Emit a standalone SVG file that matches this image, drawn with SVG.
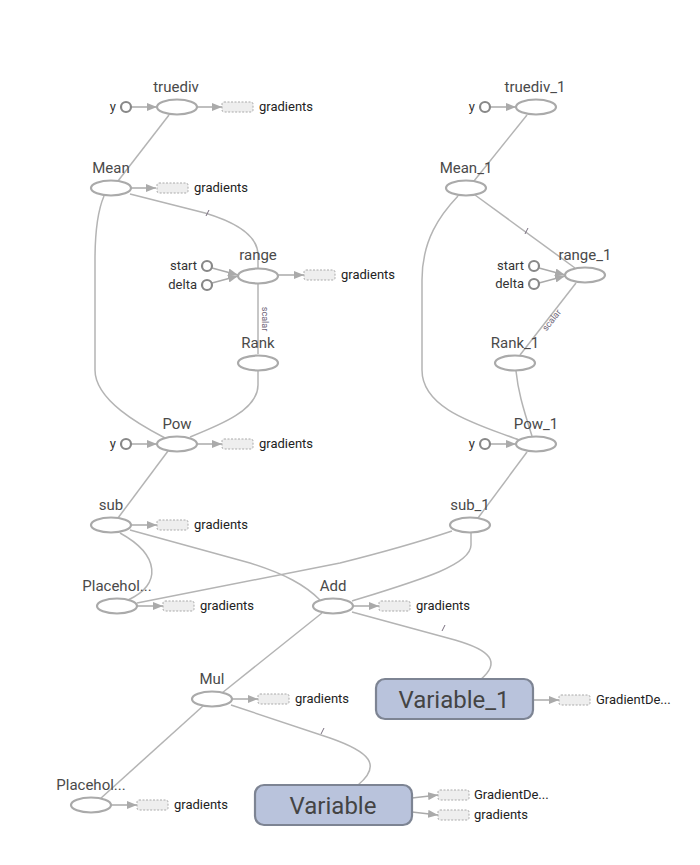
<svg xmlns="http://www.w3.org/2000/svg" width="700" height="865" viewBox="0 0 700 865">
  <defs>
    <marker id="arrow" markerUnits="userSpaceOnUse" markerWidth="10" markerHeight="8" refX="10" refY="4" orient="auto">
      <path d="M0,0 L10,4 L0,8 z" fill="#aaaaaa"/>
    </marker>
    <style>
      text { font-family: Roboto, "Liberation Sans", sans-serif; }
      .op { fill: #ffffff; stroke: #aaaaaa; stroke-width: 2.2; }
      .const { fill: #ffffff; stroke: #888888; stroke-width: 2.2; }
      .var { fill: #b9c3dc; stroke: #7d8493; stroke-width: 2.2; }
      .label { font-size: 15px; fill: #4a4a4a; text-anchor: middle; }
      .varlabel { font-size: 24px; fill: #444444; text-anchor: middle; }
      .small { font-size: 13px; fill: #222222; }
      .inlabel { font-size: 13px; fill: #333333; text-anchor: end; }
      .grad { fill: #eeeeee; stroke: #aaaaaa; stroke-width: 1; stroke-dasharray: 2,1.5; }
      .edge { fill: none; stroke: #b4b4b4; stroke-width: 1.5; }
      .io { fill: none; stroke: #aaaaaa; stroke-width: 1.5; marker-end: url(#arrow); }
      .tick { fill: none; stroke: #7a6f80; stroke-width: 1; }
      .edgelabel { font-size: 9px; fill: #6d6478; text-anchor: middle; }
    </style>
  </defs>

  <!-- data edges between operations -->
  <g id="edges">
    <path class="edge" d="M169,115 L118,181"/>
    <path class="edge" d="M130,194 L205,213 C235,222 258,235 258,255 L258,268"/>
    <path class="edge" d="M104,196 C98,210 95,230 95,260 L95,370 C95,400 140,425 165,438"/>
    <path class="edge" d="M258,284 L258,354"/>
    <path class="edge" d="M258,371 L258,385 C258,410 220,425 190,437"/>
    <path class="edge" d="M168,451 L118,518"/>
    <path class="edge" d="M120,533 C160,555 162,585 128,600"/>
    <path class="edge" d="M130,530 L250,563 C285,574 305,585 320,600"/>
    <path class="edge" d="M452,531 C410,545 380,553 340,563 L137,603"/>
    <path class="edge" d="M471,533 L471,545 C471,565 420,580 352,601"/>
    <path class="edge" d="M322,613 L222,693"/>
    <path class="edge" d="M352,612 L455,640 C490,650 502,662 480,680"/>
    <path class="edge" d="M231,705 L330,738 C370,752 382,765 358,785"/>
    <path class="edge" d="M203,706 L100,799"/>

    <path class="edge" d="M527,115 L474,181"/>
    <path class="edge" d="M475,195 L575,268"/>
    <path class="edge" d="M458,196 C440,215 422,240 422,280 L422,370 C422,410 480,425 519,440"/>
    <path class="edge" d="M576,283 L520,355"/>
    <path class="edge" d="M516,371 C518,390 522,405 532,436"/>
    <path class="edge" d="M527,452 L478,518"/>

    <!-- reference-edge ticks -->
    <path class="tick" d="M206,216 L209,210"/>
    <path class="tick" d="M525,234 L528,228"/>
    <path class="tick" d="M442,631 L445,625"/>
    <path class="tick" d="M321,734 L324,728"/>

    <text class="edgelabel" transform="translate(262,319) rotate(90)">scalar</text>
    <text class="edgelabel" transform="translate(554,322) rotate(-52)">scalar</text>

    <!-- inputs and outputs -->
    <path class="io" d="M131,107 L157,107"/>
    <path class="io" d="M197,107 L222,107"/>
    <path class="io" d="M131,188 L156,188"/>
    <path class="io" d="M212,268 L238,275"/>
    <path class="io" d="M212,283 L238,276"/>
    <path class="io" d="M278,275 L304,275"/>
    <path class="io" d="M131,444 L157,444"/>
    <path class="io" d="M197,444 L222,444"/>
    <path class="io" d="M131,525 L157,525"/>
    <path class="io" d="M137,606 L163,606"/>
    <path class="io" d="M353,606 L379,606"/>
    <path class="io" d="M232,699 L258,699"/>
    <path class="io" d="M111,805 L137,805"/>
    <path class="io" d="M533,700 L559,700"/>
    <path class="io" d="M412,798 L438,795"/>
    <path class="io" d="M412,812 L438,815"/>

    <path class="io" d="M490,107 L516,107"/>
    <path class="io" d="M539,268 L565,275"/>
    <path class="io" d="M539,283 L565,276"/>
    <path class="io" d="M490,444 L516,444"/>
  </g>

  <!-- left column -->
  <g id="truediv">
    <text class="label" x="176" y="92">truediv</text>
    <ellipse class="op" cx="177" cy="107" rx="20" ry="7.5"/>
    <circle class="const" cx="126" cy="107" r="5"/>
    <text class="inlabel" x="116" y="111">y</text>
    <rect class="grad" x="222" y="102" width="31" height="10" rx="2"/>
    <text class="small" x="259" y="111">gradients</text>
  </g>

  <g id="Mean">
    <text class="label" x="111" y="173">Mean</text>
    <ellipse class="op" cx="111" cy="188" rx="20" ry="7.5"/>
    <rect class="grad" x="157" y="183" width="31" height="10" rx="2"/>
    <text class="small" x="194" y="192">gradients</text>
  </g>

  <g id="range">
    <text class="label" x="258" y="260">range</text>
    <ellipse class="op" cx="258" cy="276" rx="20" ry="7.5"/>
    <circle class="const" cx="207" cy="266" r="5"/>
    <text class="inlabel" x="197" y="270">start</text>
    <circle class="const" cx="207" cy="285" r="5"/>
    <text class="inlabel" x="197" y="289">delta</text>
    <rect class="grad" x="304" y="270" width="31" height="10" rx="2"/>
    <text class="small" x="341" y="279">gradients</text>
  </g>

  <g id="Rank">
    <text class="label" x="258" y="348">Rank</text>
    <ellipse class="op" cx="258" cy="363" rx="20" ry="7.5"/>
  </g>

  <g id="Pow">
    <text class="label" x="177" y="429">Pow</text>
    <ellipse class="op" cx="177" cy="444" rx="20" ry="7.5"/>
    <circle class="const" cx="126" cy="444" r="5"/>
    <text class="inlabel" x="116" y="448">y</text>
    <rect class="grad" x="222" y="439" width="31" height="10" rx="2"/>
    <text class="small" x="259" y="448">gradients</text>
  </g>

  <g id="sub">
    <text class="label" x="111" y="510">sub</text>
    <ellipse class="op" cx="111" cy="525" rx="20" ry="7.5"/>
    <rect class="grad" x="157" y="520" width="31" height="10" rx="2"/>
    <text class="small" x="194" y="529">gradients</text>
  </g>

  <g id="Placeholder">
    <text class="label" x="117" y="591">Placehol...</text>
    <ellipse class="op" cx="117" cy="606" rx="20" ry="7.5"/>
    <rect class="grad" x="163" y="601" width="31" height="10" rx="2"/>
    <text class="small" x="200" y="610">gradients</text>
  </g>

  <g id="Add">
    <text class="label" x="333" y="591">Add</text>
    <ellipse class="op" cx="333" cy="606" rx="20" ry="7.5"/>
    <rect class="grad" x="379" y="601" width="31" height="10" rx="2"/>
    <text class="small" x="416" y="610">gradients</text>
  </g>

  <g id="Mul">
    <text class="label" x="212" y="684">Mul</text>
    <ellipse class="op" cx="212" cy="699" rx="20" ry="7.5"/>
    <rect class="grad" x="258" y="694" width="31" height="10" rx="2"/>
    <text class="small" x="295" y="703">gradients</text>
  </g>

  <g id="Placeholder_1">
    <text class="label" x="91" y="790">Placehol...</text>
    <ellipse class="op" cx="91" cy="805" rx="20" ry="7.5"/>
    <rect class="grad" x="137" y="800" width="31" height="10" rx="2"/>
    <text class="small" x="174" y="809">gradients</text>
  </g>

  <g id="Variable_1">
    <rect class="var" x="376" y="679" width="157" height="40" rx="9"/>
    <text class="varlabel" x="454" y="708">Variable_1</text>
    <rect class="grad" x="559" y="695" width="31" height="10" rx="2"/>
    <text class="small" x="596" y="704">GradientDe...</text>
  </g>

  <g id="Variable">
    <rect class="var" x="255" y="785" width="157" height="40" rx="9"/>
    <text class="varlabel" x="333" y="814">Variable</text>
    <rect class="grad" x="438" y="790" width="31" height="10" rx="2"/>
    <text class="small" x="474" y="799">GradientDe...</text>
    <rect class="grad" x="438" y="810" width="31" height="10" rx="2"/>
    <text class="small" x="474" y="819">gradients</text>
  </g>

  <!-- right column -->
  <g id="truediv_1">
    <text class="label" x="535" y="92">truediv_1</text>
    <ellipse class="op" cx="536" cy="107" rx="20" ry="7.5"/>
    <circle class="const" cx="485" cy="107" r="5"/>
    <text class="inlabel" x="475" y="111">y</text>
  </g>

  <g id="Mean_1">
    <text class="label" x="466" y="173">Mean_1</text>
    <ellipse class="op" cx="466" cy="188" rx="20" ry="7.5"/>
  </g>

  <g id="range_1">
    <text class="label" x="585" y="260">range_1</text>
    <ellipse class="op" cx="585" cy="275" rx="20" ry="7.5"/>
    <circle class="const" cx="534" cy="266" r="5"/>
    <text class="inlabel" x="524" y="270">start</text>
    <circle class="const" cx="534" cy="284" r="5"/>
    <text class="inlabel" x="524" y="288">delta</text>
  </g>

  <g id="Rank_1">
    <text class="label" x="515" y="348">Rank_1</text>
    <ellipse class="op" cx="515" cy="363" rx="20" ry="7.5"/>
  </g>

  <g id="Pow_1">
    <text class="label" x="536" y="429">Pow_1</text>
    <ellipse class="op" cx="536" cy="444" rx="20" ry="7.5"/>
    <circle class="const" cx="485" cy="444" r="5"/>
    <text class="inlabel" x="475" y="448">y</text>
  </g>

  <g id="sub_1">
    <text class="label" x="470" y="510">sub_1</text>
    <ellipse class="op" cx="470" cy="525" rx="20" ry="7.5"/>
  </g>
</svg>
